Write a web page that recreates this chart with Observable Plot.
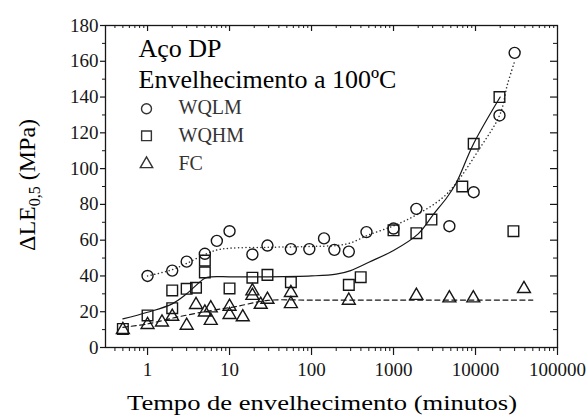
<!DOCTYPE html>
<html><head><meta charset="utf-8">
<script src="https://cdn.jsdelivr.net/npm/d3@7"></script>
<script src="https://cdn.jsdelivr.net/npm/@observablehq/plot@0.6"></script>
<style>body{margin:0;background:#fff}#chart{width:588px;height:417px}</style>
</head><body><div id="chart"></div>
<script>
// ---- data ----
const wqlmX = [1, 2, 3, 5, 7, 10, 19, 29, 56, 94, 142, 190, 285, 468, 1000, 1900, 4800, 9500, 19600, 30000];
const wqlmY = [40, 43, 48, 52.4, 59.6, 65, 52, 57, 55, 55, 61, 54.6, 53.6, 64.5, 66.5, 77.5, 67.8, 86.8, 129.7, 164.7];
const wqhmX = [0.5, 1, 2, 2, 3, 3.9, 5, 5, 10, 19, 29, 56, 285, 398, 1000, 1900, 2900, 6900, 9500, 19600, 29000];
const wqhmY = [10.4, 17.9, 31.9, 22, 32.8, 33.4, 48.6, 42, 33, 39, 40.6, 36.5, 35, 39.3, 65.5, 63.9, 71.5, 90, 113.9, 140, 65];
const fcX = [0.5, 1, 1.5, 2, 3, 3.9, 5, 5.9, 5.9, 10, 10, 14.5, 19, 19, 24, 29, 56, 56, 285, 1900, 4800, 9400, 39000];
const fcY = [9.9, 12.7, 14.1, 17.3, 12.3, 23.9, 19.7, 15, 22, 22.9, 18.3, 17, 31.5, 29, 24, 26.8, 30.6, 24.4, 26.3, 29, 27.6, 27.6, 32.8];
// fitted trend curves
const fitLMX = [1, 2, 3, 5, 7, 10, 30, 100, 200, 300, 500, 1000, 2000, 4500, 11500, 20000, 24500, 30000];
const fitLMY = [40, 43.5, 47, 52, 54.5, 55.5, 56, 56.5, 57, 58.5, 63, 68, 74.7, 86, 112, 130.6, 147, 160];
const fitHMX = [0.5, 1, 2, 3, 5, 6, 10, 30, 100, 200, 300, 500, 1000, 2000, 3100, 4500, 5750, 9500, 20000];
const fitHMY = [16, 19.7, 24.4, 30, 38.7, 39.5, 39.5, 39.5, 40, 41, 43, 47.7, 54.2, 63.5, 74.7, 84, 91.5, 114, 140];
const fitFCX = [0.5, 1, 2.3, 6, 12, 29, 100, 1000, 10000, 50000];
const fitFCY = [11.3, 13.2, 17, 20.7, 22.9, 26.3, 26.5, 26.5, 26.5, 26.5];
// axis ticks and texts
const xTicks = [1, 10, 100, 1000, 10000, 100000];
const yTicks = [0, 20, 40, 60, 80, 100, 120, 140, 160, 180];
const yMinor = [10, 30, 50, 70, 90, 110, 130, 150, 170];
const seriesNames = ["WQLM", "WQHM", "FC"];
const titleLines = ["Aço DP", "Envelhecimento a 100ºC"];
const xLabel = "Tempo de envelhecimento (minutos)";
const yLabelMain = "ΔLE", yLabelSub = "0,5", yLabelUnit = " (MPa)";

const xMinor = [];
for (const dec of [0.1, 1, 10, 100, 1000, 10000])
  for (let k = 2; k <= 9; k++) { const v = +(k * dec).toPrecision(3); if (v > 0.31) xMinor.push(v); }
const pts = (xs, ys) => xs.map((x, i) => ({x, y: ys[i]}));

const W = 588, H = 417, mL = 105, mR = 31, mT = 25, mB = 70;
const fw = W - mL - mR, fh = H - mT - mB;
const ink = "#161616";
const serif = "'Liberation Serif', 'Times New Roman', Times, serif";

const chart = Plot.plot({
  width: W, height: H,
  marginLeft: mL, marginRight: mR, marginTop: mT, marginBottom: mB,
  style: {fontFamily: serif, background: "#fff", color: ink},
  x: {type: "log", domain: [0.307, 100000]},
  y: {domain: [0, 180]},
  marks: [
    Plot.frame({stroke: ink, strokeWidth: 1.3}),
    // bottom (outward) ticks
    Plot.axisX({ticks: xTicks, tickSize: 8, tickPadding: 7, fontSize: 19, tickFormat: d => String(d), label: null, strokeWidth: 1.2}),
    Plot.axisX({ticks: xMinor, tickSize: 4, tickFormat: () => "", label: null}),
    // left (outward) ticks
    Plot.axisY({ticks: yTicks, tickSize: 5, tickPadding: 2, fontSize: 19, label: null, strokeWidth: 1.2}),
    Plot.axisY({ticks: yMinor, tickSize: 3, tickFormat: () => "", label: null}),
    // top (inward) ticks
    Plot.tickX(xTicks.slice(0, -1), {x: d => d, insetBottom: fh - 6, stroke: ink, strokeWidth: 1.2}),
    Plot.tickX(xMinor, {x: d => d, insetBottom: fh - 3, stroke: ink}),
    // right (inward) ticks
    Plot.tickY(yTicks.slice(1, -1), {y: d => d, insetLeft: fw - 7, stroke: ink, strokeWidth: 1.2}),
    Plot.tickY(yMinor, {y: d => d, insetLeft: fw - 4, stroke: ink}),
    // trend curves
    Plot.line(pts(fitLMX, fitLMY), {x: "x", y: "y", curve: "catmull-rom", stroke: "#333", strokeWidth: 1.5, strokeDasharray: "0.1,3.6", strokeLinecap: "round"}),
    Plot.line(pts(fitHMX, fitHMY), {x: "x", y: "y", curve: "catmull-rom", stroke: ink, strokeWidth: 1.2}),
    Plot.line(pts(fitFCX, fitFCY), {x: "x", y: "y", curve: "catmull-rom", stroke: ink, strokeWidth: 1.2, strokeDasharray: "5,3.5"}),
    // data points
    Plot.dot(pts(wqlmX, wqlmY), {x: "x", y: "y", symbol: "circle", r: 5.5, fill: "white", fillOpacity: 0, stroke: ink, strokeWidth: 1.4}),
    Plot.dot(pts(wqhmX, wqhmY), {x: "x", y: "y", symbol: "square", r: 6, fill: "none", stroke: ink, strokeWidth: 1.4}),
    Plot.dot(pts(fcX, fcY), {x: "x", y: "y", symbol: "triangle", r: 4.8, fill: "none", stroke: ink, strokeWidth: 1.4}),
    // in-plot title
    Plot.text([titleLines[0]], {text: d => d, frameAnchor: "top-left", dx: 33, dy: 22.7, textAnchor: "start", lineAnchor: "middle", fontSize: 26, fill: "#000"}),
    Plot.text([titleLines[1]], {text: d => d, frameAnchor: "top-left", dx: 33, dy: 53.7, textAnchor: "start", lineAnchor: "middle", fontSize: 26, fill: "#000"}),
    // legend
    Plot.dot([0], {frameAnchor: "top-left", dx: 41, dy: 83.3, symbol: "circle", r: 5, fill: "none", stroke: "#333", strokeWidth: 1.4}),
    Plot.dot([0], {frameAnchor: "top-left", dx: 41, dy: 110.3, symbol: "square", r: 5.5, fill: "none", stroke: "#333", strokeWidth: 1.4}),
    Plot.dot([0], {frameAnchor: "top-left", dx: 41, dy: 138.5, symbol: "triangle", r: 4.6, fill: "none", stroke: "#333", strokeWidth: 1.4}),
    Plot.text([seriesNames[0]], {text: d => d, frameAnchor: "top-left", dx: 73, dy: 82, textAnchor: "start", lineAnchor: "middle", fontSize: 20, fill: "#333"}),
    Plot.text([seriesNames[1]], {text: d => d, frameAnchor: "top-left", dx: 73, dy: 110.3, textAnchor: "start", lineAnchor: "middle", fontSize: 20, fill: "#333"}),
    Plot.text([seriesNames[2]], {text: d => d, frameAnchor: "top-left", dx: 73, dy: 138.5, textAnchor: "start", lineAnchor: "middle", fontSize: 20, fill: "#333"})
  ]
});

const svg = d3.select(chart);
// x-axis label
svg.append("text")
  .attr("x", 322).attr("y", 410)
  .attr("text-anchor", "middle")
  .style("font-family", serif).attr("font-size", 22)
  .attr("textLength", 390).attr("lengthAdjust", "spacingAndGlyphs")
  .attr("fill", "#000")
  .text(xLabel);
// y-axis label with subscript
const yl = svg.append("text")
  .attr("transform", "translate(35,185) rotate(-90)")
  .attr("text-anchor", "middle")
  .style("font-family", serif).attr("font-size", 24)
  .attr("fill", "#000");
yl.append("tspan").text(yLabelMain);
yl.append("tspan").attr("font-size", 16).attr("dy", 5).text(yLabelSub);
yl.append("tspan").attr("dy", -5).text(yLabelUnit);

document.getElementById("chart").appendChild(chart);
</script>
</body></html>
